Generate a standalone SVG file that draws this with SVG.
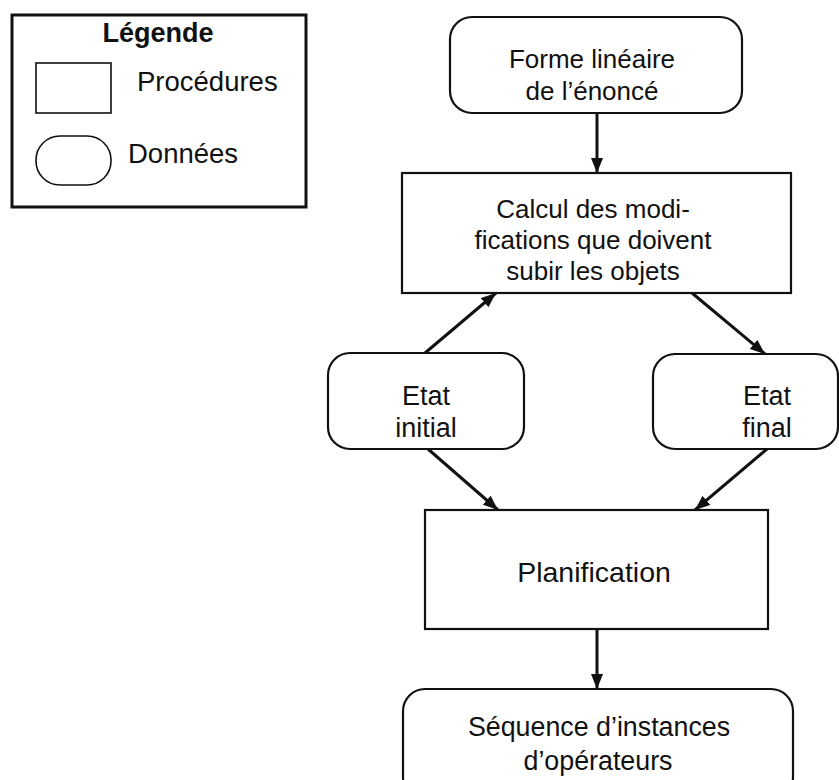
<svg xmlns="http://www.w3.org/2000/svg" width="839" height="780" viewBox="0 0 839 780">
<style>
  .box { fill: #fff; stroke: #111; stroke-width: 2.2; }
  .t { font-family: "Liberation Sans", Arial, Helvetica, sans-serif; font-size: 26px; fill: #111; text-anchor: middle; }
  .tl { font-family: "Liberation Sans", Arial, Helvetica, sans-serif; font-size: 27.5px; fill: #111; text-anchor: start; }
  .b { font-weight: bold; font-size: 27px; }
  .arrow { fill: none; stroke: #111; stroke-width: 3; marker-end: url(#ah); }
</style>
<defs>
  <marker id="ah" markerUnits="userSpaceOnUse" markerWidth="16" markerHeight="12" refX="15" refY="6" orient="auto">
    <path d="M0,0 L15,6 L0,12 z" fill="#111"/>
  </marker>
</defs>
<rect width="839" height="780" fill="#fff"/>

<g id="legend">
  <rect x="12" y="15" width="294" height="192" fill="#fff" stroke="#111" stroke-width="3"/>
  <text class="t b" x="158" y="42">Légende</text>
  <rect x="36" y="63" width="75" height="50" fill="#fff" stroke="#111" stroke-width="1.6"/>
  <text class="tl" x="137" y="91">Procédures</text>
  <rect x="36" y="136" width="75" height="49" rx="24" ry="24" fill="#fff" stroke="#111" stroke-width="1.6"/>
  <text class="tl" x="128" y="163">Données</text>
</g>

<g id="connectors">
  <line class="arrow" x1="597" y1="113" x2="597" y2="173"/>
  <line class="arrow" x1="425" y1="353" x2="496" y2="293"/>
  <line class="arrow" x1="692" y1="293" x2="765" y2="354"/>
  <line class="arrow" x1="428" y1="449" x2="498" y2="510"/>
  <line class="arrow" x1="767" y1="449" x2="695" y2="510"/>
  <line class="arrow" x1="597" y1="629" x2="597" y2="689"/>
</g>

<g id="forme">
  <rect class="box" x="450" y="17" width="292" height="96" rx="22" ry="22"/>
  <text class="t" x="592" y="68">Forme linéaire</text>
  <text class="t" x="592" y="100">de l’énoncé</text>
</g>

<g id="calcul">
  <rect class="box" x="402" y="173" width="389" height="120"/>
  <text class="t" x="593" y="218">Calcul des modi-</text>
  <text class="t" x="593" y="249">fications que doivent</text>
  <text class="t" x="593" y="280">subir les objets</text>
</g>

<g id="etat-initial">
  <rect class="box" x="328" y="353" width="196" height="96" rx="22" ry="22"/>
  <text class="t" x="426" y="405" style="font-size:27px">Etat</text>
  <text class="t" x="426" y="437" style="font-size:27px">initial</text>
</g>

<g id="etat-final">
  <rect class="box" x="653" y="354" width="185" height="95" rx="22" ry="22"/>
  <text class="t" x="767" y="405" style="font-size:27px">Etat</text>
  <text class="t" x="767" y="437" style="font-size:27px">final</text>
</g>

<g id="planification">
  <rect class="box" x="425" y="510" width="343" height="119"/>
  <text class="t" x="594" y="582" style="font-size:28.5px">Planification</text>
</g>

<g id="sequence">
  <rect class="box" x="403" y="689" width="390" height="110" rx="22" ry="22"/>
  <text class="t" x="599" y="736" style="font-size:26.8px">Séquence d’instances</text>
  <text class="t" x="598" y="770" style="font-size:26.8px">d’opérateurs</text>
</g>
</svg>
